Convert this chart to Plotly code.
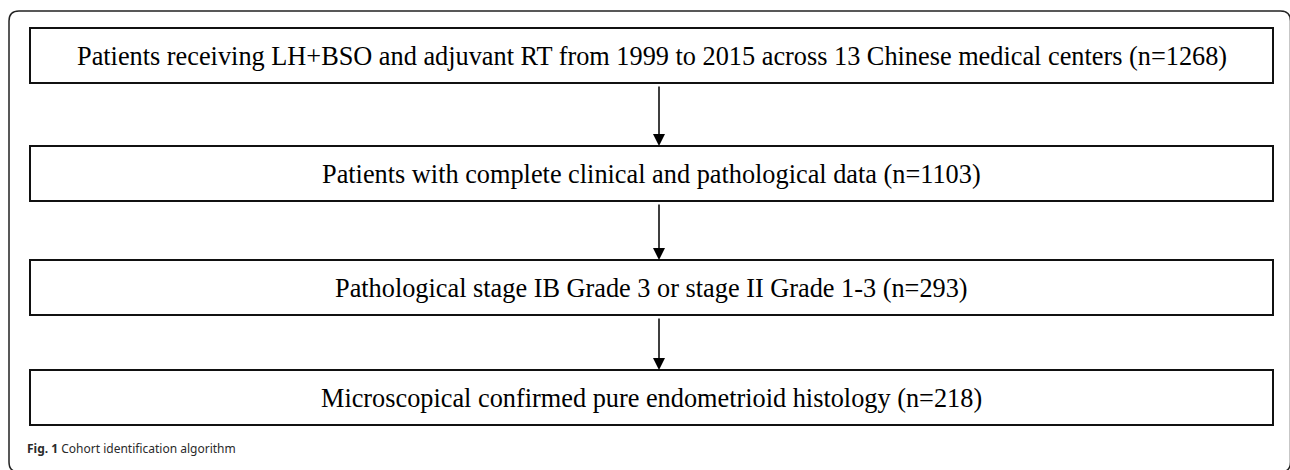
import plotly.graph_objects as go

# Data: flowchart steps
step_labels = [
    "Patients receiving LH+BSO and adjuvant RT from 1999 to 2015 across 13 Chinese medical centers (n=1268)",
    "Patients with complete clinical and pathological data (n=1103)",
    "Pathological stage IB Grade 3 or stage II Grade 1-3 (n=293)",
    "Microscopical confirmed pure endometrioid histology (n=218)",
]
caption_bold = "Fig. 1"
caption_text = "Cohort identification algorithm"

W, H = 1290, 470
fig = go.Figure()

# layout geometry
box_x0, box_x1 = 30, 1273
box_tops = [28, 146, 260, 370]
box_h = 55
arrow_x = 659

shapes = []
# outer rounded frame (right and bottom edges fall just outside the canvas)
r = 10
fx0, fy0, fx1, fy1 = 9, 11, 1290.5, 472
path = (f"M {fx0+r},{fy0} L {fx1-r},{fy0} Q {fx1},{fy0} {fx1},{fy0+r} "
        f"L {fx1},{fy1-r} Q {fx1},{fy1} {fx1-r},{fy1} "
        f"L {fx0+r},{fy1} Q {fx0},{fy1} {fx0},{fy1-r} "
        f"L {fx0},{fy0+r} Q {fx0},{fy0} {fx0+r},{fy0} Z")
shapes.append(dict(type="path", path=path, xref="x", yref="y",
                   line=dict(color="#222222", width=1.5)))

annotations = []
for i, lab in enumerate(step_labels):
    top = box_tops[i]
    bot = top + box_h
    shapes.append(dict(type="rect", xref="x", yref="y", x0=box_x0, x1=box_x1,
                       y0=top, y1=bot, line=dict(color="#111111", width=2)))
    annotations.append(dict(x=(box_x0 + box_x1) / 2, y=(top + bot) / 2 + 1, xref="x", yref="y",
                            text=lab, showarrow=False,
                            font=dict(family="Liberation Serif", size=26.3, color="#000000"),
                            xanchor="center", yanchor="middle"))
    if i < len(step_labels) - 1:
        nxt = box_tops[i + 1]
        annotations.append(dict(x=arrow_x, y=nxt, ax=arrow_x, ay=bot + 2,
                                xref="x", yref="y", axref="x", ayref="y",
                                text="", showarrow=True, arrowhead=2,
                                arrowsize=1.6, arrowwidth=1.5, arrowcolor="#000000"))

annotations.append(dict(x=25, y=448, xref="x", yref="y", xanchor="left", yanchor="middle",
                        text=f"<b>{caption_bold}</b> {caption_text}", showarrow=False,
                        font=dict(family="Noto Sans", size=12, color="#2a2a2a")))

fig.update_layout(
    width=W, height=H, margin=dict(l=0, r=0, t=0, b=0),
    paper_bgcolor="white", plot_bgcolor="white",
    xaxis=dict(range=[0, W], visible=False, fixedrange=True),
    yaxis=dict(range=[H, 0], visible=False, fixedrange=True),
    shapes=shapes, annotations=annotations, showlegend=False,
)
fig.write_html("out.html", config={"displayModeBar": False},
               post_script="document.body.style.margin='0';document.body.style.overflow='hidden';")
